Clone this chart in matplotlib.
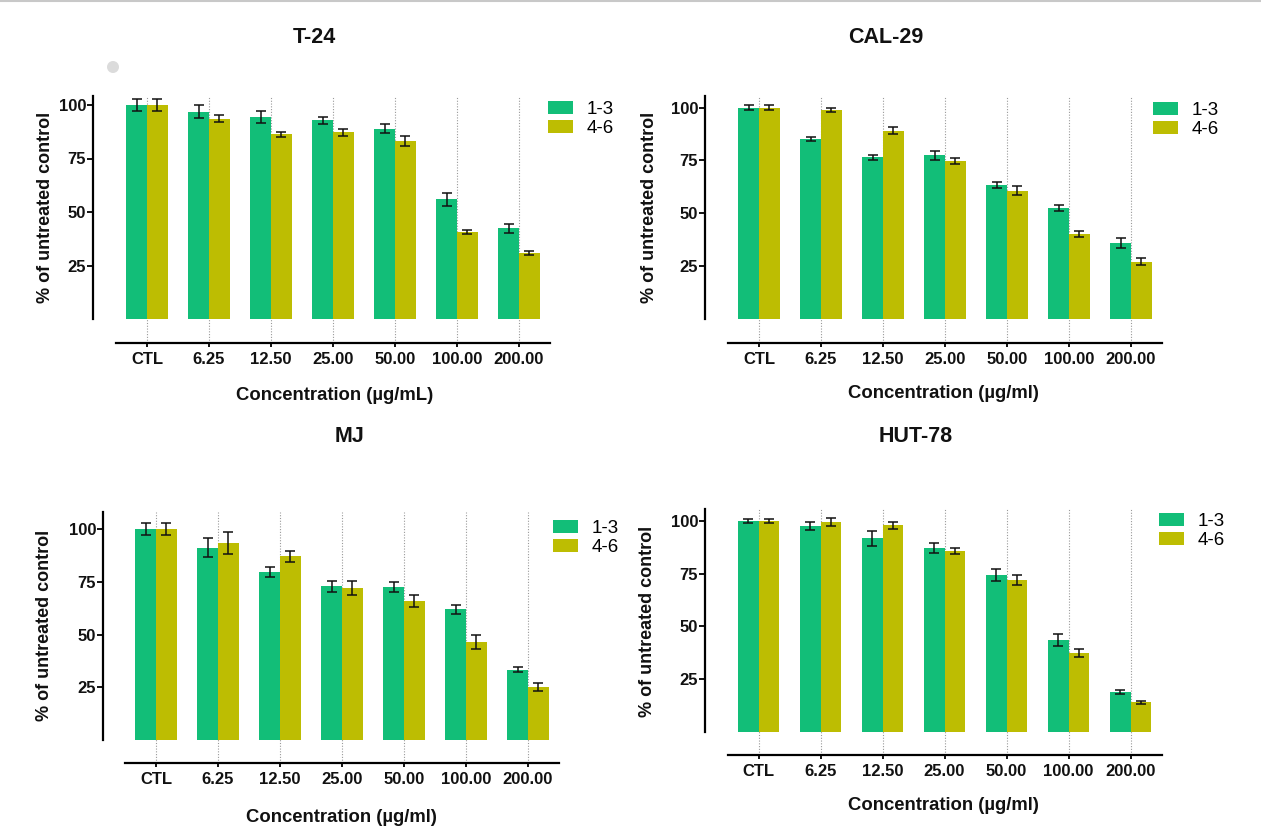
import numpy as np
import matplotlib
matplotlib.use("Agg")
import matplotlib.pyplot as plt
from matplotlib.patches import Patch, Circle
from matplotlib.lines import Line2D

plt.rcParams['font.family'] = ['Liberation Sans', 'DejaVu Sans']

concentrations = ["CTL", "6.25", "12.50", "25.00", "50.00", "100.00", "200.00"]
series_names = ["1-3", "4-6"]

t24_13 = [100.0, 96.9, 94.4, 92.8, 89.0, 55.9, 42.3]
t24_13_err = [2.9, 3.0, 2.6, 1.8, 2.2, 3.2, 2.0]
t24_46 = [100.0, 93.6, 86.4, 87.2, 83.1, 40.7, 30.7]
t24_46_err = [2.9, 1.6, 1.2, 1.5, 2.2, 1.0, 0.9]

cal29_13 = [100.0, 85.1, 76.5, 77.4, 63.5, 52.4, 35.7]
cal29_13_err = [1.2, 0.9, 1.1, 2.0, 1.4, 1.5, 2.4]
cal29_46 = [100.0, 99.0, 89.1, 74.7, 60.7, 40.1, 27.0]
cal29_46_err = [1.2, 1.0, 1.7, 1.5, 2.0, 1.3, 1.7]

mj_13 = [100.0, 91.2, 79.7, 72.8, 72.6, 62.1, 33.5]
mj_13_err = [2.8, 4.4, 2.5, 2.8, 2.4, 2.1, 1.0]
mj_46 = [100.0, 93.4, 87.0, 71.9, 65.9, 46.5, 25.2]
mj_46_err = [3.0, 5.0, 2.5, 3.3, 2.8, 3.5, 2.0]

hut78_13 = [100.0, 97.6, 91.8, 87.0, 74.3, 43.6, 18.7]
hut78_13_err = [1.1, 1.7, 3.6, 2.4, 2.9, 2.9, 1.0]
hut78_46 = [100.0, 99.7, 97.9, 85.7, 71.9, 37.4, 13.9]
hut78_46_err = [1.1, 1.9, 1.7, 1.4, 2.5, 1.9, 0.6]

GREEN = "#12BE78"
YELLOW = "#BDBD02"

W, H = 1261, 836
SP = 62.0  # px between categories

# panel layout in pixels: spine x, first category x, y of 0, y of 100, x-axis y, spine top,
# title (x, y), ylabel (x, y), xlabel (x, y), legend anchor (x, y)
panels = [
    dict(name="T-24", a=t24_13, ae=t24_13_err, b=t24_46, be=t24_46_err,
         sx=93, c0=147, y0=319, y100=105, xl=342.5, top=96,
         title=(314, 37.5), ylab=(46, 207), xlab=(335, 396), leg=(548, 101),
         unit="Concentration (\u00b5g/mL)"),
    dict(name="CAL-29", a=cal29_13, ae=cal29_13_err, b=cal29_46, be=cal29_46_err,
         sx=705, c0=759, y0=318.7, y100=107.7, xl=342.7, top=96,
         title=(886, 37.5), ylab=(650, 207.5), xlab=(943, 393), leg=(1153, 102),
         unit="Concentration (\u00b5g/ml)"),
    dict(name="MJ", a=mj_13, ae=mj_13_err, b=mj_46, be=mj_46_err,
         sx=103, c0=156, y0=740.3, y100=529, xl=763, top=512,
         title=(350, 437), ylab=(45, 625), xlab=(341, 817), leg=(553, 520),
         unit="Concentration (\u00b5g/ml)"),
    dict(name="HUT-78", a=hut78_13, ae=hut78_13_err, b=hut78_46, be=hut78_46_err,
         sx=705, c0=758.5, y0=731.7, y100=521, xl=755, top=509,
         title=(916, 436.5), ylab=(648, 621), xlab=(943, 805), leg=(1159, 513),
         unit="Concentration (\u00b5g/ml)"),
]


def fx(px):
    return px / W


def fy(py):
    return 1 - py / H


fig = plt.figure(figsize=(W / 100, H / 100), dpi=100)
fig.add_artist(Line2D([0, 1], [fy(1), fy(1)], color="#c8c8c8", lw=1.5))
# faint smudge in the scanned figure
fig.add_artist(Circle((113, H - 67), 6, transform=None, color="#d2d2d2", alpha=0.8, lw=0))

x = np.arange(len(concentrations))
w = 0.335

for p in panels:
    k = (p["y0"] - p["y100"]) / 100.0
    right = p["c0"] + 6.5 * SP
    ax = fig.add_axes([fx(p["sx"]), fy(p["xl"]), (right - p["sx"]) / W, (p["xl"] - p["top"]) / H])
    ax.set_xlim(-(p["c0"] - p["sx"]) / SP, 6.5)
    ax.set_ylim(-(p["xl"] - p["y0"]) / k, (p["y0"] - p["top"]) / k)

    for xi in x:
        ax.axvline(xi, color="#9a9a9a", lw=0.8, ls=(0, (1, 1.5)), zorder=0)

    ax.bar(x - w / 2, p["a"], w, color=GREEN, zorder=2)
    ax.bar(x + w / 2, p["b"], w, color=YELLOW, zorder=2)
    ax.errorbar(x - w / 2, p["a"], yerr=p["ae"], fmt="none", ecolor="#111111",
                elinewidth=1.1, capsize=3.4, capthick=1.1, zorder=3)
    ax.errorbar(x + w / 2, p["b"], yerr=p["be"], fmt="none", ecolor="#111111",
                elinewidth=1.1, capsize=3.4, capthick=1.1, zorder=3)

    for s in ["top", "right"]:
        ax.spines[s].set_visible(False)
    ax.spines["left"].set_bounds(0, ax.get_ylim()[1])
    ax.spines["bottom"].set_bounds(-0.5, 6.5)
    ax.spines["left"].set_linewidth(1.6)
    ax.spines["bottom"].set_linewidth(1.6)

    ax.set_yticks([25, 50, 75, 100])
    ax.set_xticks(x)
    ax.set_xticklabels(concentrations)
    ax.tick_params(axis="y", length=4.5, width=1.3, pad=0.5, labelsize=12)
    ax.tick_params(axis="x", length=3, width=1.3, pad=3.5, labelsize=12)
    for lab in ax.get_xticklabels() + ax.get_yticklabels():
        lab.set_fontweight("bold")
        lab.set_color("#111111")

    fig.text(fx(p["title"][0]), fy(p["title"][1]), p["name"], ha="center", va="center",
             fontsize=15.5, fontweight="bold", color="#111111")
    fig.text(fx(p["ylab"][0]), fy(p["ylab"][1]), "% of untreated control", rotation=90,
             ha="center", va="center", fontsize=13, fontweight="bold", color="#111111")
    fig.text(fx(p["xlab"][0]), fy(p["xlab"][1]), p["unit"], ha="center", va="center",
             fontsize=13.3, fontweight="bold", color="#111111")

    handles = [Patch(facecolor=GREEN), Patch(facecolor=YELLOW)]
    ax.legend(handles, series_names, loc="upper left",
              bbox_to_anchor=(fx(p["leg"][0]), fy(p["leg"][1])), bbox_transform=fig.transFigure,
              frameon=False, fontsize=13.5, borderpad=0, borderaxespad=0,
              handlelength=1.33, handleheight=0.67, handletextpad=0.75, labelspacing=0.12)

fig.savefig("out.png", dpi=100)
